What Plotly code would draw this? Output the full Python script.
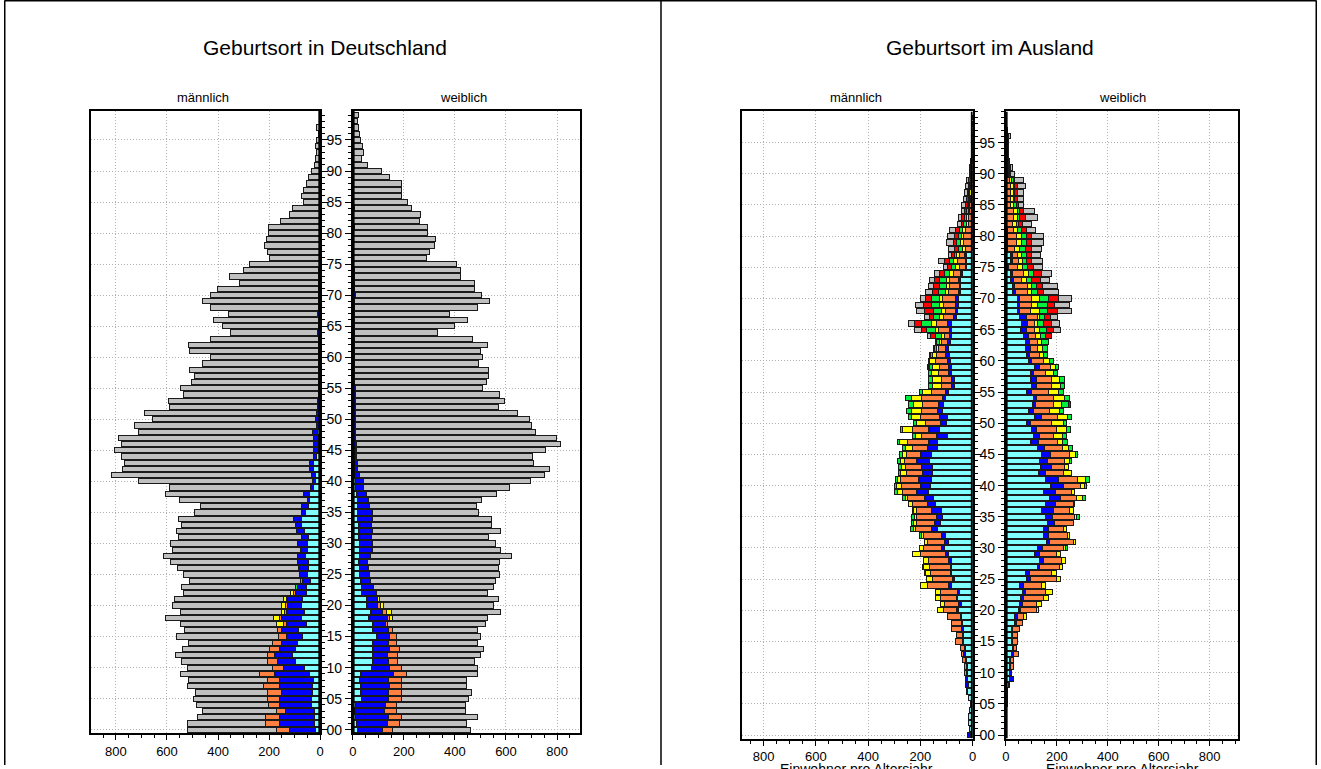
import plotly.graph_objects as go

W, H = 1321, 769

ages = list(range(100))
age_ticks = [0, 5, 10, 15, 20, 25, 30, 35, 40, 45, 50, 55, 60, 65, 70, 75, 80, 85, 90, 95]
age_labels = ["00", "05", "10", "15", "20", "25", "30", "35", "40", "45",
              "50", "55", "60", "65", "70", "75", "80", "85", "90", "95"]
x_ticks = [0, 200, 400, 600, 800]
x_labels = ["0", "200", "400", "600", "800"]

panel_titles = ["Geburtsort in Deutschland", "Geburtsort im Ausland"]
sex_titles = ["männlich", "weiblich"]
axis_title = "Einwohner pro Altersjahr"

series_names = ["cyan", "blue", "orange", "yellow", "green", "red", "gray"]
series_colors = ["#80FFFF", "#0000FF", "#FF8040", "#FFFF00", "#00F040", "#FF0000", "#C0C0C0"]

# ---------------- Geburtsort in Deutschland, männlich ----------------
de_m_cyan = [17, 21, 21, 21, 32, 35, 30, 30, 27, 43,
             62, 95, 108, 95, 87, 68, 84, 52, 71, 62,
             71, 68, 55, 55, 39, 49, 47, 47, 56, 49,
             49, 45, 61, 71, 73, 58, 45, 40, 43, 27,
             17, 19, 27, 25, 13, 5, 8, 6, 10, 3,
             2, 2, 2, 2, 1, 1, 1, 1, 1, 1,
             1, 1, 1, 1, 1, 1, 1, 1, 1, 1,
             1, 1, 1, 0, 0, 0, 0, 0, 0, 0] + [0] * 20
de_m_blue = [101, 137, 137, 114, 126, 123, 121, 130, 133, 134,
             83, 73, 69, 65, 64, 64, 67, 80, 80, 69,
             58, 59, 40, 33, 30, 33, 37, 41, 32, 26,
             38, 28, 33, 24, 31, 13, 28, 9, 21, 9,
             13, 13, 16, 15, 13, 21, 18, 20, 20, 10,
             15, 12, 10, 10, 7, 4, 7, 7, 7, 7,
             7, 7, 7, 7, 11, 7, 7, 9, 7, 7,
             7, 7, 5, 5, 5, 4, 4, 4, 4, 4,
             3, 3, 3, 2, 2, 2, 2, 1, 1, 1] + [0] * 10
de_m_orange = [51, 54, 54, 34, 45, 50, 54, 61, 48, 61,
               41, 40, 28, 39, 37, 30, 17, 13, 7, 9,
               5, 6, 9] + [0] * 77
de_m_yellow = [0] * 17 + [25, 25, 12, 17, 10, 10] + [0] * 77
de_m_green = [0] * 23 + [9, 9] + [0] * 75
de_m_red = [0] * 100
de_m_gray = [352, 306, 268, 293, 281, 289, 283, 298, 308, 309,
             333, 335, 361, 341, 328, 400, 364, 377, 421, 395,
             428, 428, 422, 446, 432, 453, 476, 498, 525, 503,
             500, 480, 468, 447, 449, 423, 397, 500, 542, 556,
             680, 785, 732, 726, 751, 779, 753, 765, 680, 716,
             639, 673, 578, 582, 527, 542, 496, 486, 502, 452,
             423, 504, 509, 423, 341, 373, 409, 348, 423, 452,
             423, 393, 311, 350, 296, 271, 193, 204, 214, 205,
             200, 200, 154, 117, 108, 64, 69, 65, 54, 46,
             32, 23, 17, 13, 17, 13, 8, 13, 4, 3]

# ---------------- Geburtsort in Deutschland, weiblich ----------------
de_f_cyan = [17, 13, 9, 7, 9, 35, 30, 30, 27, 30,
             72, 78, 76, 76, 76, 94, 76, 76, 61, 69,
             52, 52, 35, 35, 29, 26, 26, 24, 25, 25,
             25, 22, 22, 22, 20, 20, 18, 18, 15, 12,
             10, 8, 8, 6, 5, 5, 4, 4, 3, 3,
             3, 2, 2, 2, 2, 2, 2, 2, 2, 2,
             2, 1, 1, 1, 1, 1, 1, 1, 1, 1,
             1, 1, 1, 1, 1] + [0] * 25
de_f_blue = [101, 122, 131, 115, 119, 105, 110, 114, 113, 131,
             72, 62, 61, 68, 65, 50, 65, 52, 76, 49,
             46, 46, 57, 47, 40, 39, 35, 32, 45, 50,
             50, 50, 55, 52, 56, 58, 46, 42, 40, 30,
             30, 17, 12, 12, 10, 9, 10, 8, 9, 9,
             9, 8, 8, 8, 8, 8, 6, 6, 6, 6,
             6, 5, 5, 7, 5, 5, 5, 5, 7, 5,
             9, 7, 5, 5, 7, 4, 4, 4, 4, 4,
             4, 8, 4, 4, 8, 4, 3, 3, 3, 3,
             2, 1] + [0] * 8
de_f_orange = [38, 48, 50, 48, 42, 52, 50, 46, 50, 49,
               46, 34, 36, 39, 29, 26, 16, 9, 7, 13,
               9] + [0] * 79
de_f_yellow = [0] * 18 + [10, 19, 12, 7] + [0] * 78
de_f_green = [0] * 100
de_f_red = [0] * 100
de_f_gray = [304, 264, 298, 272, 272, 263, 274, 254, 257, 280,
             300, 303, 326, 329, 320, 329, 333, 383, 373, 428,
             433, 464, 434, 470, 490, 510, 508, 517, 551, 505,
             482, 458, 503, 471, 469, 413, 419, 446, 506, 570,
             657, 727, 751, 691, 690, 741, 800, 785, 704, 689,
             679, 635, 560, 584, 564, 499, 515, 522, 522, 484,
             501, 494, 520, 462, 326, 393, 443, 372, 479, 529,
             494, 470, 471, 416, 414, 401, 284, 295, 315, 319,
             287, 283, 256, 260, 222, 212, 189, 189, 187, 140,
             112, 56, 34, 42, 38, 30, 25, 22, 17, 23]

# ---------------- Geburtsort im Ausland, männlich ----------------
au_m_cyan = [9, 13, 14, 14, 10, 8, 16, 20, 16, 19,
             19, 20, 23, 29, 29, 36, 36, 36, 38, 42,
             55, 42, 57, 51, 82, 70, 80, 80, 82, 93,
             108, 93, 105, 133, 122, 114, 118, 143, 150, 169,
             160, 156, 152, 152, 165, 156, 133, 133, 95, 127,
             99, 95, 114, 112, 105, 93, 70, 70, 82, 82,
             86, 90, 93, 86, 82, 80, 82, 60, 57, 55,
             55, 45, 45, 48, 40, 22, 22, 25] + [0] * 22
au_m_blue = [10, 0, 0, 0, 0, 0, 0, 5, 12, 8,
             3, 3, 3, 7, 3, 4, 4, 8, 6, 6,
             8, 13, 6, 6, 11, 7, 6, 6, 10, 12,
             10, 15, 13, 23, 24, 23, 38, 28, 34, 47,
             41, 53, 38, 45, 51, 45, 38, 36, 42, 42,
             23, 32, 19, 19, 10, 12, 12, 12, 11, 11,
             9, 13, 12, 9, 6, 9, 14, 12, 10, 10,
             12, 8, 6, 5, 5, 5, 5, 5, 3, 3,
             3, 3, 2, 2, 2, 1] + [0] * 14
au_m_orange = [0] * 10 + [10, 7, 12, 8, 14, 25, 20, 38, 38, 48,
                          49, 53, 59, 65, 78, 77, 74, 79, 77, 96,
                          70, 63, 70, 61, 70, 76, 60, 61, 67, 52,
                          73, 68, 64, 61, 44, 53, 61, 82, 60, 63,
                          59, 74, 64, 59, 79, 54, 39, 39, 38, 35,
                          46, 34, 26, 23, 20, 42, 41, 38, 38, 47,
                          47, 40, 38, 35, 30, 25, 30, 20, 25, 30,
                          30, 25, 15, 15, 10, 10, 8, 6, 5, 4,
                          2, 3, 2, 1, 1, 1, 0, 0, 0, 0]
au_m_yellow = [0] * 20 + [24, 16, 21, 21, 29, 24, 21, 23, 19, 29,
                          16, 13, 9, 11, 10, 10, 10, 15, 5, 18,
                          18, 12, 23, 16, 17, 16, 26, 28, 20, 36,
                          35, 34, 38, 38, 41, 31, 33, 31, 25, 26,
                          24, 17, 9, 10, 12, 12, 19, 15, 13, 13,
                          13, 12, 12, 12, 12, 12, 15, 10, 12, 12,
                          10, 10, 8, 7, 5, 5, 4, 4, 3, 3,
                          1, 1, 1, 1, 0, 0, 0, 0, 0, 0]
au_m_green = [0] * 26 + [4, 4, 0, 0,
                         0, 0, 7, 11, 9, 12, 6, 0, 12, 12,
                         6, 7, 6, 9, 9, 10, 10, 8, 15, 9,
                         9, 12, 19, 19, 23, 14, 15, 17, 13, 11,
                         4, 8, 7, 9, 23, 32, 38, 25, 32, 34,
                         29, 25, 25, 25, 20, 15, 15, 10, 15, 15,
                         12, 12, 8, 7, 5, 5, 4, 4, 3, 2,
                         1, 1, 1, 1, 0, 0, 0, 0, 0, 0]
au_m_red = [0] * 59 + [3,
                       0, 2, 3, 6, 19, 22, 28, 15, 35, 29,
                       25, 25, 22, 20, 20, 18, 20, 10, 15, 15,
                       15, 15, 10, 10, 8, 8, 8, 6, 6, 6,
                       3, 2, 1, 1, 1, 1, 1, 0, 0, 0]
au_m_gray = [0] * 59 + [5,
                        0, 2, 0, 0, 9, 26, 25, 20, 28, 32,
                        17, 24, 21, 20, 20, 15, 24, 13, 23, 24,
                        25, 25, 15, 14, 12, 13, 12, 12, 10, 8,
                        4, 3, 3, 2, 2, 1, 1, 1, 0, 0]

# ---------------- Geburtsort im Ausland, weiblich ----------------
au_f_cyan = [2, 3, 3, 3, 3, 6, 6, 6, 9, 16,
             13, 16, 16, 22, 26, 22, 23, 23, 35, 35,
             48, 55, 57, 65, 55, 81, 78, 126, 131, 114,
             126, 160, 147, 147, 165, 156, 140, 156, 173, 147,
             174, 156, 127, 134, 132, 139, 126, 97, 110, 100,
             81, 113, 87, 105, 110, 82, 100, 97, 97, 113,
             87, 82, 78, 78, 71, 58, 62, 55, 45, 45,
             45, 26, 26, 20, 20, 5, 20, 20] + [0] * 22
au_f_blue = [0] * 8 + [7, 13,
                       9, 3, 3, 9, 4, 4, 4, 4, 7, 9,
                       9, 10, 11, 13, 16, 15, 13, 6, 18, 16,
                       19, 11, 22, 21, 27, 28, 46, 39, 41, 48,
                       51, 52, 29, 44, 33, 36, 27, 30, 21, 21,
                       16, 27, 23, 13, 11, 19, 21, 24, 11, 17,
                       14, 10, 17, 13, 16, 24, 22, 27, 10, 10,
                       10, 13, 7, 8, 5, 5, 5, 5, 5, 5,
                       5, 5, 3, 3, 3, 3, 2, 2, 2, 2,
                       1, 0, 0, 0, 0, 0, 0, 0, 0, 0]
au_f_orange = [0] * 11 + [12, 10, 17, 12, 18, 17, 25, 23, 26,
                          62, 57, 80, 78, 68, 101, 87, 78, 69, 69,
                          82, 95, 71, 57, 74, 86, 65, 69, 65, 62,
                          67, 75, 71, 53, 65, 76, 68, 74, 55, 76,
                          82, 64, 63, 68, 67, 68, 57, 57, 48, 45,
                          46, 38, 28, 35, 30, 32, 29, 41, 40, 46,
                          46, 45, 51, 32, 45, 35, 25, 20, 30, 35,
                          35, 25, 22, 27, 27, 17, 18, 18, 18, 13,
                          7, 8, 5, 4, 3, 3, 4, 1, 1, 0]
au_f_yellow = [0] * 19 + [11,
                          10, 17, 20, 26, 16, 17, 22, 13, 17, 15,
                          7, 9, 9, 13, 0, 9, 15, 6, 21, 12,
                          16, 30, 30, 13, 18, 23, 26, 21, 36, 41,
                          46, 36, 36, 33, 42, 36, 36, 34, 30, 20,
                          26, 19, 20, 14, 19, 17, 10, 7, 35, 24,
                          29, 16, 16, 20, 20, 20, 15, 15, 20, 20,
                          20, 15, 15, 15, 15, 10, 8, 8, 8, 7,
                          4, 3, 2, 2, 1, 1, 2, 1, 0, 0]
au_f_green = [0] * 30 + [9, 0, 0, 0, 0, 8, 0, 0, 12, 0,
                         8, 14, 0, 0, 9, 9, 15, 18, 16, 15,
                         13, 17, 16, 28, 21, 20, 16, 18, 15, 13,
                         13, 16, 19, 29, 20, 29, 26, 23, 35, 37,
                         36, 23, 20, 20, 20, 20, 15, 20, 20, 20,
                         20, 15, 10, 10, 10, 10, 7, 7, 7, 6,
                         3, 3, 2, 1, 1, 1, 2, 1, 0, 0]
au_f_red = [0] * 53 + [6] + [0] * 10 + [22, 28, 29, 22, 36, 29,
                                        39, 26, 25, 35, 30, 23, 20, 20, 25, 20,
                                        20, 20, 15, 20, 15, 10, 10, 10, 10, 7,
                                        5, 4, 2, 2, 2, 2, 3, 1, 1, 1]
au_f_gray = [0] * 65 + [26, 31, 26, 56, 58,
                        52, 56, 56, 38, 39, 36, 44, 36, 40, 49,
                        49, 37, 35, 48, 43, 21, 26, 26, 33, 36,
                        15, 7, 4, 3, 3, 3, 7, 1, 1, 1]

pyramids = [
    [de_m_cyan, de_m_blue, de_m_orange, de_m_yellow, de_m_green, de_m_red, de_m_gray],
    [de_f_cyan, de_f_blue, de_f_orange, de_f_yellow, de_f_green, de_f_red, de_f_gray],
    [au_m_cyan, au_m_blue, au_m_orange, au_m_yellow, au_m_green, au_m_red, au_m_gray],
    [au_f_cyan, au_f_blue, au_f_orange, au_f_yellow, au_f_green, au_f_red, au_f_gray],
]
for p in pyramids:
    for s in p:
        assert len(s) == 100, len(s)

# ---------------- layout geometry (pixels) ----------------
def fx(p):
    return p / W

def fy(p):
    return 1 - p / H

FONT = "Liberation Sans, Arial, sans-serif"

axes_cfg = [
    dict(xd=(88, 318), xr=[896, 0], yd=(737, 111.7), yr=[-0.56, 99.65], side="right"),
    dict(xd=(351, 580), xr=[0, 892], yd=(737, 111.7), yr=[-0.56, 99.65], side="left"),
    dict(xd=(742, 974.5), xr=[885, 0], yd=(742.4, 112), yr=[-0.55, 100.0], side="right"),
    dict(xd=(1008, 1242), xr=[0, 913], yd=(742.4, 112), yr=[-0.55, 100.0], side="left"),
]

fig = go.Figure()

for i, (cfg, data) in enumerate(zip(axes_cfg, pyramids)):
    n = "" if i == 0 else str(i + 1)
    for name, color, vals in zip(series_names, series_colors, data):
        fig.add_trace(go.Bar(
            x=vals, y=ages, orientation="h", name=name,
            marker=dict(color=color, line=dict(color="#1a1a1a", width=1)),
            xaxis="x" + n, yaxis="y" + n, showlegend=False,
            hoverinfo="skip",
        ))

GRID_DASH = "1px,2px"

layout = dict(
    width=W, height=H, autosize=False,
    margin=dict(l=0, r=0, t=0, b=0),
    paper_bgcolor="white", plot_bgcolor="white",
    barmode="stack", bargap=0.16,
    font=dict(family=FONT, size=13, color="black"),
    showlegend=False,
)

for i, cfg in enumerate(axes_cfg):
    n = "" if i == 0 else str(i + 1)
    layout["xaxis" + n] = dict(
        domain=[fx(cfg["xd"][0]), fx(cfg["xd"][1])],
        range=cfg["xr"], anchor="y" + n,
        tickmode="array", tickvals=x_ticks, ticktext=x_labels,
        ticks="outside", ticklen=5, tickcolor="black",
        minor=dict(ticks="outside", ticklen=3, tickcolor="black",
                   tickmode="linear", tick0=0, dtick=50, showgrid=False),
        showline=True, linecolor="black", linewidth=2, mirror=True,
        showgrid=True, gridcolor="#b0b0b0", griddash=GRID_DASH, gridwidth=1,
        zeroline=False, tickfont=dict(size=13, family=FONT),
        fixedrange=True,
    )
    layout["yaxis" + n] = dict(
        domain=[fy(cfg["yd"][0]), fy(cfg["yd"][1])],
        range=cfg["yr"], anchor="x" + n, side=cfg["side"],
        tickmode="array", tickvals=age_ticks, ticktext=age_labels,
        showticklabels=(cfg["side"] == "left"),
        ticks="outside", ticklen=6, tickcolor="black",
        minor=dict(ticks="outside", ticklen=3, tickcolor="black",
                   tickmode="linear", tick0=0, dtick=1, showgrid=False),
        showline=True, linecolor="black", linewidth=2, mirror=True,
        showgrid=True, gridcolor="#b0b0b0", griddash=GRID_DASH, gridwidth=1,
        zeroline=False, tickfont=dict(size=14, family=FONT),
        fixedrange=True,
    )

shapes = []
for i, cfg in enumerate(axes_cfg):
    n = "" if i == 0 else str(i + 1)
    shapes.append(dict(type="line", xref="x" + n, yref="y" + n,
                       x0=0, x1=0, y0=cfg["yr"][0], y1=cfg["yr"][1],
                       line=dict(color="black", width=3.5), layer="above"))
for (x0, y0, x1, y1) in [(0.5, 0.75, 1320.5, 0.75), (0.75, 0.5, 0.75, 769),
                         (661, 0.5, 661, 769), (1320.25, 0.5, 1320.25, 769)]:
    shapes.append(dict(type="line", xref="paper", yref="paper",
                       x0=fx(x0), x1=fx(x1), y0=fy(y0), y1=fy(y1),
                       line=dict(color="black", width=1.5)))
layout["shapes"] = shapes

annotations = []
for text, xc in zip(panel_titles, [323, 992]):
    annotations.append(dict(text=text, x=fx(xc), y=fy(48), xref="paper", yref="paper",
                            xanchor="center", yanchor="middle", showarrow=False,
                            font=dict(size=21, family=FONT, color="black")))
for text, xc in zip(sex_titles * 2, [200, 462, 857, 1125]):
    annotations.append(dict(text=text, x=fx(xc), y=fy(98), xref="paper", yref="paper",
                            xanchor="center", yanchor="middle", showarrow=False,
                            font=dict(size=13, family=FONT, color="black")))
for xc in [858, 1125]:
    annotations.append(dict(text=axis_title, x=fx(xc), y=fy(773), xref="paper", yref="paper",
                            xanchor="center", yanchor="middle", showarrow=False,
                            font=dict(size=14, family=FONT, color="black")))
layout["annotations"] = annotations

fig.update_layout(**layout)
fig.write_html("out.html",
               config={"displayModeBar": False},
               post_script="document.body.style.margin='0';document.body.style.padding='0';document.body.style.overflow='hidden';")
